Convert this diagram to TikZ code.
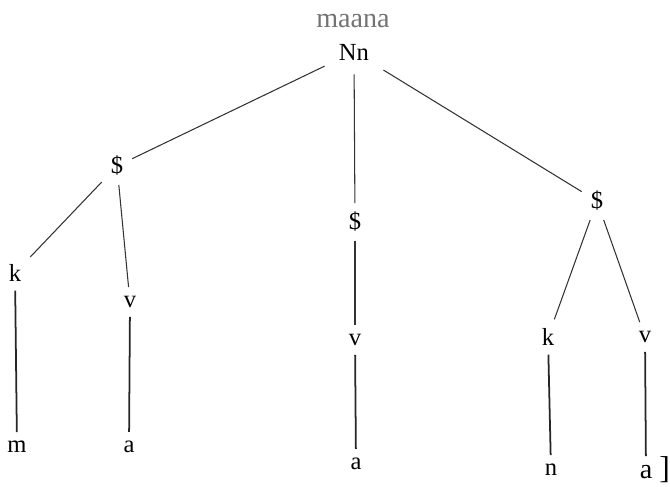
\documentclass[tikz,border=0pt]{standalone}
\usepackage{fontspec}
\setmainfont{Liberation Serif}
\usepackage{tikz}
\usetikzlibrary{positioning}

\tikzset{
  lbl/.style={inner sep=5pt, font=\fontsize{14}{16}\selectfont},
  twig/.style={line width=0.6pt, black!80},
  stem/.style={line width=1pt, black!85}
}

\begin{document}
\begin{tikzpicture}[x=0.02cm, y=-0.02cm]
		\useasboundingbox (0,0) rectangle (670,487);
		% top: word and its root
		\node (word) [lbl, text=black!55, font=\fontsize{16}{18}\selectfont] at (353,21) {maana};
		\node (nn) [lbl, inner sep=8pt] at (354,52) {Nn};
		
		% syllables
		\node (sl) [lbl] at (117,166) {\$};
		\node (sm) [lbl] at (355,222) {\$};
		\node (sr) [lbl] at (597,201) {\$};
		
		% skeleton slots
		\node (kl) [lbl] at (15,273) {k};
		\node (vl) [lbl] at (130,302) {v};
		\node (vm) [lbl] at (355,340) {v};
		\node (kr) [lbl] at (548,337) {k};
		\node (vr) [lbl] at (645,337) {v};
		
		% segments
		\node (m) [lbl] at (17,447) {m};
		\node (al) [lbl] at (129,447) {a};
		\node (am) [lbl] at (356,464) {a};
		\node (n) [lbl] at (551,470) {n};
		\node (ar) [lbl, font=\fontsize{16}{18}\selectfont] at (646,472) {a};
		\node (brk) [lbl, inner sep=0pt, anchor=west, font=\fontsize{18}{20}\selectfont] at (659,470) {]};
		
		% Nn -> syllables
		\draw[twig] (nn) -- (sl);
		\draw[twig] (nn) -- (sm);
		\draw[twig] (nn) -- (sr);
		
		% syllables -> slots
		\draw[twig] (sl) -- (kl);
		\draw[twig] (sl) -- (vl);
		\draw[twig] (sm) -- (vm);
		\draw[twig] (sr) -- (kr);
		\draw[twig] (sr) -- (vr);
		
		% slots -> segments
		\foreach \s/\t in {kl/m, vl/al, vm/am, kr/n, vr/ar} {
			\draw[stem] (\s) -- (\t);
		}
	\end{tikzpicture}
\end{document}
